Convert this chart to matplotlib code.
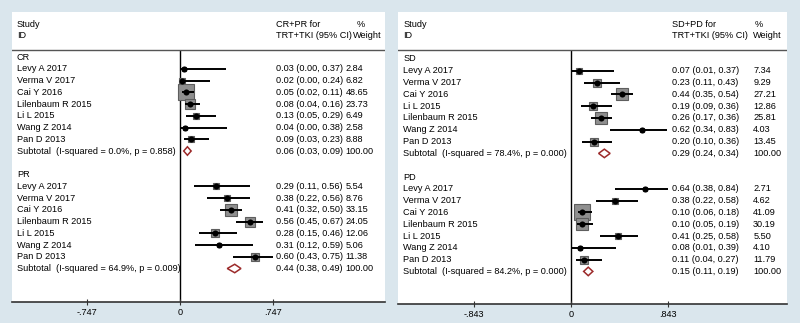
import numpy as np
import matplotlib.pyplot as plt
from matplotlib.patches import Polygon

plt.rcParams['font.family'] = ['Liberation Sans', 'DejaVu Sans']

# Data
cr_pr_studies_a = ["Levy A 2017", "Verma V 2017", "Cai Y 2016", "Lilenbaum R 2015",
                   "Li L 2015", "Wang Z 2014", "Pan D 2013"]
cr_est = [0.03, 0.02, 0.05, 0.08, 0.13, 0.04, 0.09]
cr_lo = [0.00, 0.00, 0.02, 0.04, 0.05, 0.00, 0.03]
cr_hi = [0.37, 0.24, 0.11, 0.16, 0.29, 0.38, 0.23]
cr_w = [2.84, 6.82, 48.65, 23.73, 6.49, 2.58, 8.88]
cr_sub = (0.06, 0.03, 0.09, "0.0%", "0.858")

pr_est = [0.29, 0.38, 0.41, 0.56, 0.28, 0.31, 0.60]
pr_lo = [0.11, 0.22, 0.32, 0.45, 0.15, 0.12, 0.43]
pr_hi = [0.56, 0.56, 0.50, 0.67, 0.46, 0.59, 0.75]
pr_w = [5.54, 8.76, 33.15, 24.05, 12.06, 5.06, 11.38]
pr_sub = (0.44, 0.38, 0.49, "64.9%", "0.009")

sd_studies = ["Levy A 2017", "Verma V 2017", "Cai Y 2016", "Li L 2015",
              "Lilenbaum R 2015", "Wang Z 2014", "Pan D 2013"]
sd_est = [0.07, 0.23, 0.44, 0.19, 0.26, 0.62, 0.20]
sd_lo = [0.01, 0.11, 0.35, 0.09, 0.17, 0.34, 0.10]
sd_hi = [0.37, 0.43, 0.54, 0.36, 0.36, 0.83, 0.36]
sd_w = [7.34, 9.29, 27.21, 12.86, 25.81, 4.03, 13.45]
sd_sub = (0.29, 0.24, 0.34, "78.4%", "0.000")

pd_studies = ["Levy A 2017", "Verma V 2017", "Cai Y 2016", "Lilenbaum R 2015",
              "Li L 2015", "Wang Z 2014", "Pan D 2013"]
pd_est = [0.64, 0.38, 0.10, 0.10, 0.41, 0.08, 0.11]
pd_lo = [0.38, 0.22, 0.06, 0.05, 0.25, 0.01, 0.04]
pd_hi = [0.84, 0.58, 0.18, 0.19, 0.58, 0.39, 0.27]
pd_w = [2.71, 4.62, 41.09, 30.19, 5.50, 4.10, 11.79]
pd_sub = (0.15, 0.11, 0.19, "84.2%", "0.000")

FS = 6.6
TXT = 'black'
BG = '#dae6ed'


def draw_group(ax, y0, name, studies, est, lo, hi, w, sub, k_box, cols):
    x_est, x_w = cols
    tr = ax.get_yaxis_transform()  # x in axes fraction, y in data
    ax.text(0.013, y0, name, transform=tr, va='center', fontsize=FS, color=TXT)
    for i in range(len(studies)):
        y = y0 + 1 + i
        ax.text(0.013, y, studies[i], transform=tr, va='center', fontsize=FS, color=TXT)
        ax.hlines(y, lo[i], hi[i], color='black', lw=1.4, zorder=3)
        ax.plot(est[i], y, marker='s', ms=k_box * np.sqrt(w[i]) * 0.72,
                mfc='#8f8f8f', mec='#5e5e5e', mew=0.8, zorder=2)
        ax.plot(est[i], y, marker='o', ms=4.4, mew=0, color='black', zorder=4)
        ax.text(x_est, y, f"{est[i]:.2f} ({lo[i]:.2f}, {hi[i]:.2f})", transform=tr,
                va='center', fontsize=FS, color=TXT)
        ax.text(x_w, y, f"{w[i]:.2f}", transform=tr, va='center', fontsize=FS, color=TXT)
    ys = y0 + 1 + len(studies)
    m, l, h, i2, p = sub
    ax.text(0.013, ys, f"Subtotal  (I-squared = {i2}, p = {p})", transform=tr,
            va='center', fontsize=FS, color=TXT)
    dh = 0.36
    ax.add_patch(Polygon([(l, ys), (m, ys - dh), (h, ys), (m, ys + dh)], closed=True,
                         fill=False, edgecolor='#9c2a2a', lw=1.1, zorder=3))
    ax.text(x_est, ys, f"{m:.2f} ({l:.2f}, {h:.2f})", transform=tr,
            va='center', fontsize=FS, color=TXT)
    ax.text(x_w, ys, "100.00", transform=tr, va='center', fontsize=FS, color=TXT)


def setup_panel(ax, xlim, ylim, hdr_y, tick, title1, cols, pct_x, weight_x):
    ax.set_facecolor('white')
    ax.set_xlim(*xlim)
    ax.set_ylim(*ylim)
    for s in ['top', 'left', 'right']:
        ax.spines[s].set_visible(False)
    ax.spines['bottom'].set_color('#333333')
    ax.spines['bottom'].set_linewidth(1.2)
    ax.set_yticks([])
    ax.set_xticks([-tick, 0, tick])
    ax.set_xticklabels([f"-{tick:.3f}".replace("0.", "."), "0", f"{tick:.3f}".replace("0.", ".")])
    ax.tick_params(axis='x', direction='inout', length=4, width=0.8, labelsize=FS,
                   pad=2, colors='#333333', labelcolor=TXT)
    ax.axhline(hdr_y, color='#555555', lw=1.0)
    ax.vlines(0, hdr_y, ylim[0], color='black', lw=1.0, zorder=1)
    tr = ax.get_yaxis_transform()
    ax.text(0.013, hdr_y - 2.2, "Study", transform=tr, va='center', fontsize=FS, color=TXT)
    ax.text(0.013, hdr_y - 1.25, "ID", transform=tr, va='center', fontsize=FS, color=TXT)
    ax.text(cols[0], hdr_y - 2.2, title1, transform=tr, va='center', fontsize=FS, color=TXT)
    ax.text(cols[0], hdr_y - 1.25, "TRT+TKI (95% CI)", transform=tr, va='center',
            fontsize=FS, color=TXT)
    ax.text(pct_x, hdr_y - 2.2, "%", transform=tr, va='center', fontsize=FS, color=TXT)
    ax.text(weight_x, hdr_y - 1.25, "Weight", transform=tr, va='center', fontsize=FS, color=TXT)


fig = plt.figure(figsize=(8, 3.23), dpi=100, facecolor=BG)

# left panel: pixels x 12..385, y 12..302
ax1 = fig.add_axes([12 / 800, (323 - 302) / 323, 373 / 800, 290 / 323])
cols1 = (0.707, 0.895)
setup_panel(ax1, (-1.349, 1.647), (20.85, -3.83), -0.6, 0.747, "CR+PR for",
            cols1, 0.925, 0.913)
draw_group(ax1, 0, "CR", cr_pr_studies_a, cr_est, cr_lo, cr_hi, cr_w, cr_sub, 2.2, cols1)
draw_group(ax1, 10, "PR", cr_pr_studies_a, pr_est, pr_lo, pr_hi, pr_w, pr_sub, 2.2, cols1)

# right panel: pixels x 398..787, y 12..304
ax2 = fig.add_axes([398 / 800, (323 - 304) / 323, 389 / 800, 292 / 323])
cols2 = (0.704, 0.913)
setup_panel(ax2, (-1.503, 1.877), (20.76, -3.98), -0.76, 0.843, "SD+PD for",
            cols2, 0.918, 0.913)
draw_group(ax2, 0, "SD", sd_studies, sd_est, sd_lo, sd_hi, sd_w, sd_sub, 2.35, cols2)
draw_group(ax2, 10, "PD", pd_studies, pd_est, pd_lo, pd_hi, pd_w, pd_sub, 2.35, cols2)

fig.savefig("out.png", dpi=100, facecolor=BG)
